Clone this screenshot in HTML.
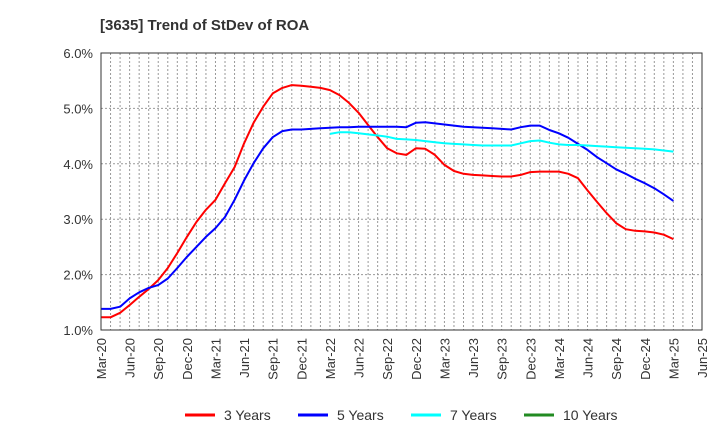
<!DOCTYPE html>
<html><head><meta charset="utf-8"><style>
body{margin:0;background:#fff;}
svg{display:block;font-family:"Liberation Sans",sans-serif;}
</style></head><body>
<svg id="chart" width="720" height="440" viewBox="0 0 720 440" xmlns="http://www.w3.org/2000/svg">
<text x="100" y="30" font-size="15" font-weight="bold" fill="#333">[3635]  Trend of StDev of ROA</text>
<g id="grid"></g><g id="yticks"></g><g id="xticks"></g><g id="series"></g>
<rect x="101" y="53" width="601" height="277" fill="none" stroke="#333" stroke-width="1"/>
<g id="legend"></g>
</svg>
<script>
const xLabels=["Mar-20","Jun-20","Sep-20","Dec-20","Mar-21","Jun-21","Sep-21","Dec-21","Mar-22","Jun-22","Sep-22","Dec-22","Mar-23","Jun-23","Sep-23","Dec-23","Mar-24","Jun-24","Sep-24","Dec-24","Mar-25","Jun-25"];
const yTicks=[1,2,3,4,5,6];
const s3=[1.23,1.23,1.31,1.45,1.6,1.74,1.9,2.12,2.39,2.68,2.95,3.17,3.35,3.65,3.94,4.37,4.74,5.03,5.27,5.37,5.42,5.41,5.39,5.37,5.33,5.24,5.1,4.92,4.7,4.48,4.28,4.19,4.16,4.28,4.27,4.16,3.98,3.87,3.82,3.8,3.79,3.78,3.77,3.77,3.8,3.85,3.86,3.86,3.86,3.82,3.74,3.52,3.31,3.11,2.93,2.82,2.79,2.78,2.76,2.72,2.64];
const s5=[1.38,1.38,1.42,1.57,1.68,1.76,1.81,1.93,2.12,2.32,2.5,2.68,2.84,3.04,3.35,3.7,4.01,4.28,4.48,4.59,4.62,4.62,4.63,4.64,4.65,4.66,4.66,4.67,4.67,4.67,4.67,4.67,4.66,4.74,4.75,4.73,4.71,4.69,4.67,4.66,4.65,4.64,4.63,4.62,4.66,4.69,4.69,4.61,4.55,4.47,4.36,4.25,4.12,4.01,3.9,3.82,3.73,3.65,3.56,3.45,3.33];
const s7=[null,null,null,null,null,null,null,null,null,null,null,null,null,null,null,null,null,null,null,null,null,null,null,null,4.54,4.57,4.57,4.55,4.53,4.51,4.49,4.45,4.44,4.43,4.41,4.39,4.37,4.36,4.35,4.34,4.33,4.33,4.33,4.33,4.37,4.41,4.42,4.38,4.35,4.34,4.34,4.33,4.32,4.31,4.3,4.29,4.28,4.27,4.26,4.24,4.22];
const s10=[];
const L=101,R=702,T=53,B=330,NM=63;
const xs=i=>L+(R-L)*i/NM;
const ys=v=>B-(v-1)/(6-1)*(B-T);
const NS="http://www.w3.org/2000/svg";
function mk(tag,attrs,parent){const e=document.createElementNS(NS,tag);for(const k in attrs)e.setAttribute(k,attrs[k]);parent.appendChild(e);return e;}
const grid=document.getElementById('grid');
for(let m=1;m<NM;m++){const l=mk('line',{x1:xs(m),x2:xs(m),y1:T,y2:B,stroke:'#999','stroke-width':1,'stroke-dasharray':'2,2'},grid);

}
yTicks.forEach(v=>{if(v>1&&v<6){const l=mk('line',{x1:L,x2:R,y1:ys(v),y2:ys(v),stroke:'#999','stroke-width':1,'stroke-dasharray':'2,2'},grid);

}
const t=mk('text',{x:93,y:ys(v)+5,'text-anchor':'end','font-size':13,fill:'#333'},document.getElementById('yticks'));


t.textContent=v.toFixed(1)+'%';});
const xt=document.getElementById('xticks');
xLabels.forEach((s,i)=>{const x=xs(i*3);const t=mk('text',{x:0,y:0,'text-anchor':'end','font-size':13,fill:'#333',transform:`translate(${x+5},338) rotate(-90)`},xt);


t.textContent=s;});
const sg=document.getElementById('series');
[[s3,'#ff0000','series-3-years'],[s5,'#0000ff','series-5-years'],[s7,'#00ffff','series-7-years'],[s10,'#228b22','series-10-years']].forEach(([d,c,n])=>{
let p='';let pen=false;d.forEach((v,i)=>{if(v==null){pen=false;return;}p+=(pen?'L':'M')+xs(i).toFixed(1)+','+ys(v).toFixed(1);pen=true;});
if(!p)return;const e=mk('path',{d:p,fill:'none',stroke:c,'stroke-width':2,'stroke-linejoin':'round'},sg);

});
const lg=document.getElementById('legend');
[['3 Years','#ff0000',185],['5 Years','#0000ff',298],['7 Years','#00ffff',411],['10 Years','#228b22',524]].forEach(([t,c,x])=>{
const g=mk('g',{},lg);


mk('line',{x1:x,x2:x+30,y1:415,y2:415,stroke:c,'stroke-width':3},g);
const tx=mk('text',{x:x+39,y:420,'font-size':14,fill:'#333'},g);tx.textContent=t;});
</script>
</body></html>
